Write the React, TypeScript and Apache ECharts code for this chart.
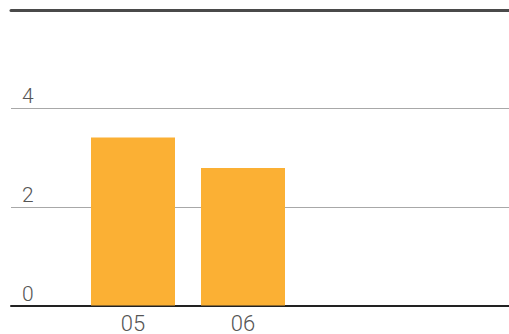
import React, { useEffect, useRef } from "react";
import * as echarts from "echarts";

// Fiscal years shown on the category axis (an empty slot keeps the spacing)
const years = ["05", "06", ""];
// Bar values per year
const values = [3.41, 2.79, null];
// Value axis range and step
const yMin = 0;
const yMax = 6;
const yStep = 2;

const FONT = "Roboto, 'Liberation Sans', sans-serif";

export default function App() {
  const ref = useRef<HTMLDivElement>(null);

  useEffect(() => {
    if (!ref.current) return;
    const chart = echarts.init(ref.current, undefined, { renderer: "svg" });
    chart.setOption({
      animation: false,
      grid: [
        // full-width frame carrying the gridlines and value labels
        { left: 11, right: 0, top: 10, bottom: 28 },
        // bar area
        { left: 78, width: 330, top: 10, bottom: 28 },
      ],
      xAxis: [
        {
          gridIndex: 0,
          type: "value",
          position: "bottom",
          axisLine: { show: true, onZero: false, lineStyle: { color: "#222", width: 2 } },
          axisTick: { show: false },
          axisLabel: { show: false },
          splitLine: { show: false },
        },
        {
          gridIndex: 0,
          type: "value",
          position: "top",
          axisLine: { show: true, onZero: false, lineStyle: { color: "#4a4a4a", width: 3 } },
          axisTick: { show: false },
          axisLabel: { show: false },
          splitLine: { show: false },
        },
        {
          gridIndex: 1,
          type: "category",
          data: years,
          axisLine: { show: false },
          axisTick: { show: false },
          axisLabel: {
            color: "#555",
            fontSize: 22,
            lineHeight: 21,
            fontFamily: FONT,
            fontWeight: 300,
            margin: 7,
          },
        },
      ],
      yAxis: [
        {
          gridIndex: 0,
          type: "value",
          min: yMin,
          max: yMax,
          interval: yStep,
          axisLine: { show: false },
          axisTick: { show: false },
          axisLabel: {
            inside: true,
            margin: 11,
            verticalAlign: "bottom",
            padding: [0, 0, 2, 0],
            color: "#555",
            fontSize: 21,
            fontFamily: FONT,
            fontWeight: 300,
            formatter: (v: number) => (v === yMax ? "" : String(v)),
          },
          splitLine: { show: true, lineStyle: { color: "#a8a8a8", width: 1 } },
        },
        {
          gridIndex: 1,
          type: "value",
          min: yMin,
          max: yMax,
          interval: yStep,
          show: false,
        },
      ],
      series: [
        {
          type: "bar",
          xAxisIndex: 2,
          yAxisIndex: 1,
          data: values,
          barWidth: 84,
          itemStyle: { color: "#FBB034" },
          z: 1,
        },
      ],
    });
    return () => chart.dispose();
  }, []);

  return (
    <div
      ref={ref}
      style={{ position: "fixed", left: 0, top: 0, width: 509, height: 334, background: "#fff" }}
    />
  );
}
